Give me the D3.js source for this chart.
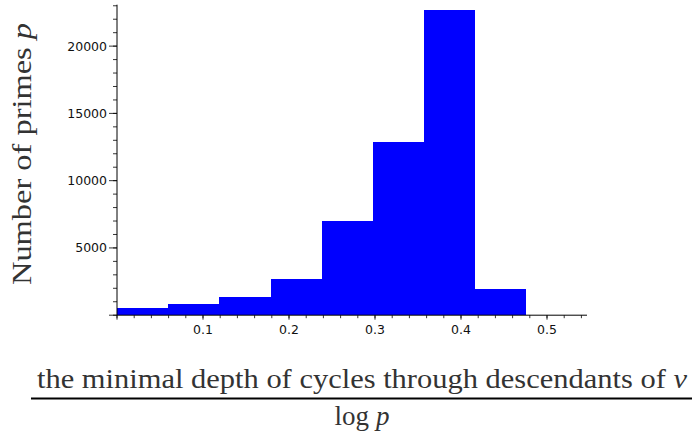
<!DOCTYPE html>
<html><head><meta charset="utf-8">
<script src="https://cdn.jsdelivr.net/npm/d3@7"></script>
<style>body{margin:0;background:#fff}svg{display:block}</style>
</head><body>
<svg id="c" width="692" height="438"></svg>
<script>
const binEdges = [0, 0.0595, 0.119, 0.1785, 0.238, 0.2975, 0.357, 0.4165, 0.476];
const counts = [560, 810, 1370, 2710, 7000, 12850, 22680, 1950];
const xTicks = [0.1, 0.2, 0.3, 0.4, 0.5];
const yTicks = [5000, 10000, 15000, 20000];

const svg = d3.select("#c");
const x = d3.scaleLinear().domain([0, 0.5465]).range([117, 587]);
const y = d3.scaleLinear().domain([0, 23080]).range([315.2, 4.7]);

const bins = counts.map((c, i) => ({x0: binEdges[i], x1: binEdges[i + 1], c}));
svg.append("g").selectAll("rect").data(bins).join("rect")
  .attr("x", d => x(d.x0)).attr("width", d => x(d.x1) - x(d.x0))
  .attr("y", d => y(d.c)).attr("height", d => y(0) - y(d.c))
  .attr("fill", "#0000ff").attr("shape-rendering", "crispEdges");

// x axis
const xMinor = d3.range(0, 0.5465, 0.02);
const gx = svg.append("g").attr("transform", `translate(0,${y(0)})`);
gx.append("line").attr("x1", x(0)).attr("x2", x.range()[1]).attr("stroke", "#000").attr("stroke-width", 1);
gx.selectAll(".mn").data(xMinor).join("line").attr("class", "mn")
  .attr("x1", d => x(d)).attr("x2", d => x(d)).attr("y1", 0).attr("y2", 3)
  .attr("stroke", "#000").attr("stroke-width", 0.8);
gx.selectAll(".mj").data([0].concat(xTicks)).join("line").attr("class", "mj")
  .attr("x1", d => x(d)).attr("x2", d => x(d)).attr("y1", 0).attr("y2", 4.5)
  .attr("stroke", "#000").attr("stroke-width", 0.8);
gx.selectAll("text").data(xTicks).join("text")
  .attr("x", d => x(d)).attr("y", 18.5).attr("text-anchor", "middle")
  .attr("font-family", "DejaVu Sans").attr("font-size", 12.5).attr("fill", "#111")
  .text(d => d3.format(".1f")(d));

// y axis
const yMinor = d3.range(0, 23001, 1000);
const gy = svg.append("g").attr("transform", `translate(${x(0)},0)`);
gy.append("line").attr("y1", y.range()[1]).attr("y2", y(0)).attr("stroke", "#000").attr("stroke-width", 1);
gy.selectAll(".mn").data(yMinor).join("line").attr("class", "mn")
  .attr("x1", -4).attr("x2", 0).attr("y1", d => y(d)).attr("y2", d => y(d))
  .attr("stroke", "#000").attr("stroke-width", 0.8);
gy.selectAll(".mj").data([0].concat(yTicks)).join("line").attr("class", "mj")
  .attr("x1", -8).attr("x2", 0).attr("y1", d => y(d)).attr("y2", d => y(d))
  .attr("stroke", "#000").attr("stroke-width", 0.8);
gy.selectAll("text").data(yTicks).join("text")
  .attr("x", -10).attr("y", d => y(d) + 4.5).attr("text-anchor", "end")
  .attr("font-family", "DejaVu Sans").attr("font-size", 12.5).attr("fill", "#111")
  .text(d => d);

// y label
const yl = svg.append("text").attr("transform", "translate(31,285) rotate(-90)")
  .attr("font-family", "Liberation Serif").attr("font-size", 28).attr("fill", "#333")
  .attr("textLength", 262).attr("lengthAdjust", "spacingAndGlyphs");
yl.append("tspan").text("Number of primes ");
yl.append("tspan").attr("font-style", "italic").text("p");

// x label (fraction)
const num = svg.append("text").attr("x", 37).attr("y", 388)
  .attr("font-family", "Liberation Serif").attr("font-size", 27).attr("fill", "#333")
  .attr("textLength", 650).attr("lengthAdjust", "spacingAndGlyphs");
num.append("tspan").text("the minimal depth of cycles through descendants of ");
num.append("tspan").attr("font-style", "italic").text("v");
svg.append("line").attr("x1", 31).attr("x2", 692).attr("y1", 398.5).attr("y2", 398.5)
  .attr("stroke", "#000").attr("stroke-width", 2);
const den = svg.append("text").attr("x", 362).attr("y", 425).attr("text-anchor", "middle")
  .attr("font-family", "Liberation Serif").attr("font-size", 27).attr("fill", "#333");
den.append("tspan").text("log ");
den.append("tspan").attr("font-style", "italic").text("p");
</script>
</body></html>
